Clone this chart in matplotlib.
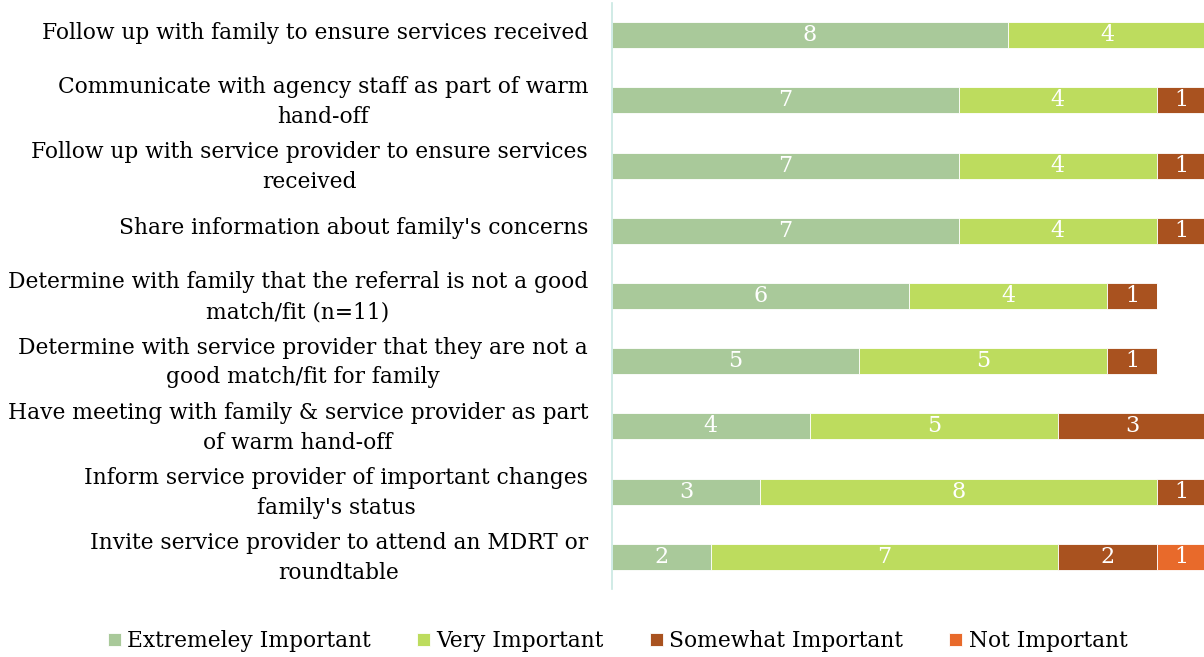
import matplotlib.pyplot as plt
import matplotlib.transforms as mtransforms
import numpy as np

categories = [
    "Follow up with family to ensure services received",
    "Communicate with agency staff as part of warm\nhand-off",
    "Follow up with service provider to ensure services\nreceived",
    "Share information about family's concerns",
    "Determine with family that the referral is not a good\nmatch/fit (n=11)",
    "Determine with service provider that they are not a\ngood match/fit for family",
    "Have meeting with family & service provider as part\nof warm hand-off",
    "Inform service provider of important changes\nfamily's status",
    "Invite service provider to attend an MDRT or\nroundtable",
]
extremely = [8, 7, 7, 7, 6, 5, 4, 3, 2]
very = [4, 4, 4, 4, 4, 5, 5, 8, 7]
somewhat = [0, 1, 1, 1, 1, 1, 3, 1, 2]
not_imp = [0, 0, 0, 0, 0, 0, 0, 0, 1]

series = [
    ("Extremeley Important", extremely, "#a9c99a"),
    ("Very Important", very, "#bddc5e"),
    ("Somewhat Important", somewhat, "#a9521f"),
    ("Not Important", not_imp, "#e86a2b"),
]

plt.rcParams['font.family'] = ['DejaVu Serif']

fig = plt.figure(figsize=(12.04, 6.57), dpi=100)
ax = fig.add_axes([0.508, 0.103, 0.494, 0.893])

y = np.arange(len(categories))
left = np.zeros(len(categories))
for name, vals, color in series:
    vals = np.array(vals, dtype=float)
    bars = ax.barh(y, vals, left=left, height=0.4, color=color,
                   edgecolor='white', linewidth=0.6, label=name)
    for b, v in zip(bars, vals):
        if v > 0:
            ax.text(b.get_x() + b.get_width() / 2, b.get_y() + b.get_height() / 2,
                    f"{int(v)}", color='white', ha='center', va='center',
                    fontsize=16)
    left += vals

ax.set_xlim(0, 12)
ax.set_ylim(len(categories) - 0.5, -0.5)
ax.set_yticks(y)
ax.set_yticklabels(categories, fontsize=15.7, multialignment='center',
                   linespacing=1.45)
ax.tick_params(axis='y', length=0, pad=17)
# nudge the category labels up a little so they sit level with the bars
shift = mtransforms.ScaledTranslation(0, 0.05, fig.dpi_scale_trans)
for lbl in ax.get_yticklabels():
    lbl.set_transform(lbl.get_transform() + shift)
ax.set_xticks([])
for s in ['top', 'right', 'bottom']:
    ax.spines[s].set_visible(False)
ax.spines['left'].set_color('#c8e8e2')
ax.spines['left'].set_linewidth(1.2)

fig.legend(loc='center', bbox_to_anchor=(0.513, 0.024), ncol=4, frameon=False,
           fontsize=15.7, handlelength=0.6, handleheight=0.6, handletextpad=0.3,
           columnspacing=2.1)

fig.savefig('out.png', dpi=100)
